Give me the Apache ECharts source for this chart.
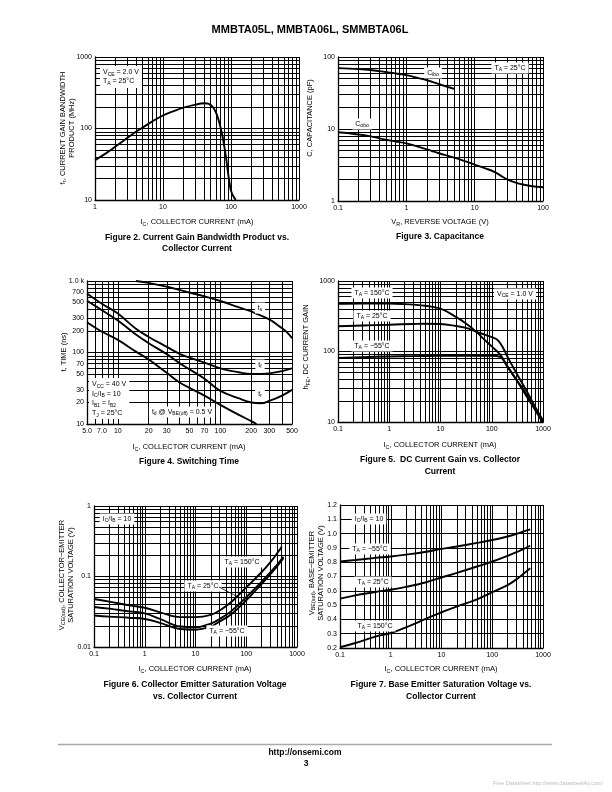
<!DOCTYPE html>
<html><head><meta charset="utf-8">
<script src="https://cdn.jsdelivr.net/npm/echarts@6/dist/echarts.min.js"></script>
<style>html,body{margin:0;padding:0;background:#fff}#c{width:612px;height:792px}</style>
</head><body><div id="c"></div>
<script>
// ---------------- DATA ----------------
// Figure 2: fT vs IC
const fig2XTicks = [1, 10, 100, 1000];
const fig2YTicks = [10, 100, 1000];
const fig2FT = [[1,36],[1.5,46],[2,56],[3,74],[4,90],[5,103],[7,126],[10,152],[15,178],[20,196],[30,216],[40,225],[45,224],[50,214],[55,195],[60,168],[65,136],[70,105],[75,78],[80,55],[85,38],[90,25],[95,17.5],[100,13.5],[110,11],[118,10]];
// Figure 3: capacitance
const fig3XTicks = [0.1, 1, 10, 100];
const fig3YTicks = [1, 10, 100];
const fig3Cibo = [[0.1,70],[0.2,68],[0.3,66],[0.5,62],[0.7,59],[1,56],[1.5,51],[2,47.5],[3,42],[4,38.5],[5,36]];
const fig3Cobo = [[0.1,9.0],[0.2,8.4],[0.3,7.9],[0.5,7.1],[0.7,6.7],[1,6.3],[2,5.2],[3,4.6],[5,4.0],[7,3.6],[10,3.2],[15,2.8],[20,2.5],[25,2.2],[30,2.0],[40,1.8],[50,1.7],[70,1.6],[100,1.55]];
// Figure 4: switching time
const fig4XTicks = [5, 7, 10, 20, 30, 50, 70, 100, 200, 300, 500];
const fig4XTickText = ['5.0','7.0','10','20','30','50','70','100','200','300','500'];
const fig4YTicks = [10, 20, 30, 50, 70, 100, 200, 300, 500, 700, 1000];
const fig4YTickText = ['10','20','30','50','70','100','200','300','500','700','1.0 k'];
const fig4Ts = [[15,1000],[20,940],[30,830],[40,750],[50,690],[70,610],[100,525],[150,430],[200,375],[300,290],[380,230],[450,190],[500,158]];
const fig4Tf = [[5,670],[7,480],[10,350],[15,215],[20,165],[30,120],[40,96],[50,85],[70,72],[100,60],[150,53],[200,50],[300,51],[400,55],[500,60]];
const fig4Tr = [[5,530],[7,390],[10,280],[15,178],[20,135],[30,95],[40,71],[50,58],[70,43],[100,29],[150,23],[200,20],[250,19.5],[300,21],[400,25],[500,30]];
const fig4Td = [[5,265],[7,195],[10,150],[15,103],[20,80],[30,52],[40,38],[50,32],[70,25],[100,18.5],[150,13.5],[200,11],[225,10]];
// Figure 5: DC current gain
const fig5XTicks = [0.1, 1, 10, 100, 1000];
const fig5YTicks = [10, 100, 1000];
const fig5H150 = [[0.1,475],[0.3,480],[1,478],[2,470],[3,462],[5,445],[10,405],[20,310],[30,255],[50,190],[70,150],[100,118],[150,88],[200,62],[300,40],[400,30],[500,23],[700,15],[900,11],[1000,9.5]];
const fig5H25 = [[0.1,228],[0.3,234],[1,240],[3,246],[5,248],[10,245],[20,230],[30,218],[50,192],[70,175],[100,160],[126,148],[150,128],[175,105],[200,86],[300,50],[500,26],[700,16.5],[1000,10.5]];
const fig5Hm55 = [[0.1,81],[0.3,83],[1,85],[3,86],[10,87],[30,87],[100,87],[145,84],[200,62],[300,40],[420,27],[500,22],[700,15],[1000,10]];
// Figure 6: VCE(sat)
const fig6XTicks = [0.1, 1, 10, 100, 1000];
const fig6YTicks = [0.01, 0.1, 1];
const fig6V150 = [[0.1,0.048],[0.2,0.044],[0.5,0.039],[1,0.036],[2,0.031],[5,0.0265],[10,0.0265],[20,0.0285],[30,0.033],[50,0.043],[100,0.07],[200,0.115],[300,0.16],[400,0.21],[500,0.265]];
const fig6V25 = [[0.1,0.037],[0.2,0.035],[0.5,0.032],[1,0.030],[2,0.025],[5,0.0195],[10,0.019],[20,0.0215],[30,0.025],[50,0.032],[100,0.051],[200,0.084],[300,0.115],[400,0.145],[540,0.19]];
const fig6Vm55 = [[0.1,0.028],[0.2,0.027],[0.5,0.026],[1,0.025],[2,0.022],[5,0.018],[10,0.0176],[20,0.0195],[30,0.023],[50,0.029],[100,0.046],[200,0.078],[300,0.108],[400,0.138],[540,0.182]];
// Figure 7: VBE(sat)
const fig7XTicks = [0.1, 1, 10, 100, 1000];
const fig7YTicks = [0.2, 0.3, 0.4, 0.5, 0.6, 0.7, 0.8, 0.9, 1.0, 1.1, 1.2];
const fig7YTickText = ['0.2','0.3','0.4','0.5','0.6','0.7','0.8','0.9','1.0','1.1','1.2'];
const fig7Bm55 = [[0.1,0.805],[0.2,0.815],[0.5,0.83],[1,0.84],[2,0.853],[5,0.873],[10,0.893],[20,0.91],[50,0.935],[100,0.955],[200,0.98],[300,0.998],[400,1.013],[560,1.03]];
const fig7B25 = [[0.1,0.545],[0.2,0.568],[0.5,0.592],[1,0.607],[2,0.627],[5,0.66],[10,0.693],[20,0.725],[50,0.77],[100,0.805],[200,0.845],[300,0.87],[400,0.89],[560,0.915]];
const fig7B150 = [[0.1,0.205],[0.2,0.235],[0.5,0.28],[1,0.305],[2,0.345],[5,0.405],[10,0.45],[20,0.49],[50,0.54],[100,0.59],[200,0.64],[300,0.68],[400,0.715],[560,0.758]];

// ---------------- HELPERS ----------------
const FONT = '"Liberation Sans", Arial, Helvetica, sans-serif';

function decadeGrid(min, max) {
  const out = [];
  const d0 = Math.floor(Math.log10(min) + 1e-9), d1 = Math.ceil(Math.log10(max) - 1e-9);
  for (let d = d0; d <= d1; d++) for (let m = 1; m <= 9; m++) {
    const v = Number((m * Math.pow(10, d)).toPrecision(6));
    if (v >= min * (1 - 1e-9) && v <= max * (1 + 1e-9)) out.push(v);
  }
  return out;
}
function fmt(v, ticks, texts) {
  const i = ticks.findIndex(t => Math.abs(t - v) <= Math.abs(t) * 1e-6);
  if (i >= 0 && texts) return texts[i];
  return String(Number(Number(v).toPrecision(6)));
}

const figs = [
  { rect: [95, 57, 204, 143],
    x: { type: 'log', min: 1, max: 1000, ticks: fig2XTicks, grid: decadeGrid(1, 1000) },
    y: { type: 'log', min: 10, max: 1000, ticks: fig2YTicks, grid: decadeGrid(10, 1000) },
    series: [fig2FT] },
  { rect: [338, 57, 205, 144],
    x: { type: 'log', min: 0.1, max: 100, ticks: fig3XTicks, grid: decadeGrid(0.1, 100) },
    y: { type: 'log', min: 1, max: 100, ticks: fig3YTicks, grid: decadeGrid(1, 100) },
    series: [fig3Cibo, fig3Cobo] },
  { rect: [87, 281, 205, 143],
    x: { type: 'log', min: 5, max: 500, ticks: fig4XTicks, texts: fig4XTickText, grid: decadeGrid(5, 500) },
    y: { type: 'log', min: 10, max: 1000, ticks: fig4YTicks, texts: fig4YTickText, grid: decadeGrid(10, 1000) },
    series: [fig4Ts, fig4Tf, fig4Tr, fig4Td] },
  { rect: [338, 281, 205, 141],
    x: { type: 'log', min: 0.1, max: 1000, ticks: fig5XTicks, grid: decadeGrid(0.1, 1000) },
    y: { type: 'log', min: 10, max: 1000, ticks: fig5YTicks, grid: decadeGrid(10, 1000) },
    series: [fig5H150, fig5H25, fig5Hm55] },
  { rect: [94, 506, 203, 141],
    x: { type: 'log', min: 0.1, max: 1000, ticks: fig6XTicks, grid: decadeGrid(0.1, 1000) },
    y: { type: 'log', min: 0.01, max: 1, ticks: fig6YTicks, grid: decadeGrid(0.01, 1) },
    series: [fig6V150, fig6V25, fig6Vm55] },
  { rect: [340, 505, 203, 143],
    x: { type: 'log', min: 0.1, max: 1000, ticks: fig7XTicks, grid: decadeGrid(0.1, 1000) },
    y: { type: 'value', min: 0.2, max: 1.2, ticks: fig7YTicks, texts: fig7YTickText, grid: fig7YTicks },
    series: [fig7Bm55, fig7B25, fig7B150] }
];

function axisCfg(i, a, dim) {
  const c = {
    gridIndex: i, type: a.type, min: a.min, max: a.max,
    axisLine: { show: true, onZero: false, lineStyle: { color: '#000', width: 1.3 } },
    axisTick: { show: false, customValues: a.grid },
    splitLine: { show: true, lineStyle: { color: '#000', width: 1 } },
    minorTick: { show: false }, minorSplitLine: { show: false },
    axisLabel: {
      customValues: a.ticks,
      fontSize: 7, fontFamily: FONT, color: '#000', margin: dim === 'x' ? 4 : 3,
      formatter: v => fmt(v, a.ticks, a.texts)
    }
  };
  if (a.type === 'log') c.logBase = 10;
  return c;
}

const series = [];
figs.forEach((f, i) => {
  f.series.forEach(d => {
    series.push({
      type: 'line', xAxisIndex: i, yAxisIndex: i, data: d,
      symbol: 'none', showSymbol: false, smooth: 0.4,
      lineStyle: { color: '#000', width: 1.9 }, z: 3, silent: true
    });
  });
});

function richSet(size, bold, lh) {
  return {
    n: { fontSize: size, fontFamily: FONT, fontWeight: bold ? 'bold' : 'normal', fill: '#000', lineHeight: lh || Math.round(size * 1.3) },
    s: { fontSize: Math.round(size * 0.72 * 10) / 10, fontFamily: FONT, fontWeight: bold ? 'bold' : 'normal', fill: '#000', verticalAlign: 'bottom', lineHeight: Math.round(size * 0.8 * 10) / 10 }
  };
}
function toRich(str) {
  return str.split('\n').map(line => {
    const parts = line.split(/_\{([^}]*)\}/);
    let o = '';
    parts.forEach((p, j) => {
      if (!p) return;
      o += (j % 2 === 0 ? '{n|' : '{s|') + p + '}';
    });
    return o;
  }).join('\n');
}
function txt(x, y, str, opt) {
  opt = opt || {};
  const size = opt.size || 7;
  const st = {
    text: toRich(str), rich: richSet(size, opt.bold, opt.lh),
    fontSize: size, fontFamily: FONT, fill: '#000',
    align: opt.align || 'center', verticalAlign: 'middle'
  };
  if (opt.bg) { st.backgroundColor = opt.bg; st.padding = opt.pad || [1, 3]; }
  return { type: 'text', x: x, y: y, rotation: opt.rot || 0, z: 100, silent: true, style: st };
}

const W = { bg: '#fff' };
const ROT = Math.PI / 2;
const IC = 'I_{C}, COLLECTOR CURRENT (mA)';
const graphics = [
  txt(310, 30, 'MMBTA05L, MMBTA06L, SMMBTA06L', { size: 11, bold: true }),
  // Fig 2
  txt(100, 77, 'V_{CE} = 2.0 V\nT_{A} = 25°C', { align: 'left', bg: '#fff', pad: [2, 3], lh: 9 }),
  txt(197, 222, IC, { size: 7.5 }),
  txt(67.5, 128, 'f_{τ}, CURRENT GAIN BANDWIDTH\nPRODUCT (MHz)', { size: 7.5, rot: ROT, lh: 9 }),
  txt(197, 243.5, 'Figure 2. Current Gain Bandwidth Product vs.\nCollector Current', { size: 8.5, bold: true, lh: 11 }),
  // Fig 3
  txt(433, 73, 'C_{ibo}', W), txt(362, 124, 'C_{obo}', W), txt(510, 68, 'T_{A} = 25°C', W),
  txt(440, 222, 'V_{R}, REVERSE VOLTAGE (V)', { size: 7.5 }),
  txt(310, 118, 'C, CAPACITANCE (pF)', { size: 7.5, rot: ROT }),
  txt(440, 237, 'Figure 3. Capacitance', { size: 8.5, bold: true }),
  // Fig 4
  txt(260, 308, 't_{s}', W), txt(260, 365, 't_{f}', W), txt(260, 394, 't_{r}', W),
  txt(89, 398.5, 'V_{CC} = 40 V\nI_{C}/I_{B} = 10\nI_{B1} = I_{B2}\nT_{J} = 25°C', { align: 'left', bg: '#fff', pad: [1, 3], lh: 9.7 }),
  txt(182, 412, 't_{d} @ V_{BE(off)} = 0.5 V', W),
  txt(189, 447, IC, { size: 7.5 }),
  txt(64, 352, 't, TIME (ns)', { size: 7.5, rot: ROT }),
  txt(189, 462, 'Figure 4. Switching Time', { size: 8.5, bold: true }),
  // Fig 5
  txt(372, 293, 'T_{A} = 150°C', W), txt(372, 316, 'T_{A} = 25°C', W), txt(372, 346, 'T_{A} = −55°C', W),
  txt(515, 294, 'V_{CE} = 1.0 V', W),
  txt(440, 445, IC, { size: 7.5 }),
  txt(306, 347, 'h_{FE}, DC CURRENT GAIN', { size: 7.5, rot: ROT }),
  txt(440, 466, 'Figure 5.  DC Current Gain vs. Collector\nCurrent', { size: 8.5, bold: true, lh: 12 }),
  // Fig 6
  txt(117, 519, 'I_{C}/I_{B} = 10', W),
  txt(242, 562, 'T_{A} = 150°C', W), txt(203, 586, 'T_{A} = 25°C', W), txt(227, 631, 'T_{A} = −55°C', W),
  { type: 'line', z: 100, silent: true, shape: { x1: 219, y1: 587, x2: 240, y2: 598 }, style: { stroke: '#000', lineWidth: 0.8 } },
  txt(195, 669, IC, { size: 7.5 }),
  txt(66.5, 575, 'V_{CE(sat)}, COLLECTOR−EMITTER\nSATURATION VOLTAGE (V)', { size: 7.5, rot: ROT, lh: 9 }),
  txt(195, 691, 'Figure 6. Collector Emitter Saturation Voltage\nvs. Collector Current', { size: 8.5, bold: true, lh: 12 }),
  // Fig 7
  txt(369, 519, 'I_{C}/I_{B} = 10', W),
  txt(370, 549, 'T_{A} = −55°C', W), txt(373, 582, 'T_{A} = 25°C', W), txt(375, 626, 'T_{A} = 150°C', W),
  txt(441, 669, IC, { size: 7.5 }),
  txt(316, 573, 'V_{BE(sat)}, BASE−EMITTER\nSATURATION VOLTAGE (V)', { size: 7.5, rot: ROT, lh: 9 }),
  txt(441, 691, 'Figure 7. Base Emitter Saturation Voltage vs.\nCollector Current', { size: 8.5, bold: true, lh: 12 }),
  // footer
  { type: 'line', z: 100, silent: true, shape: { x1: 58, y1: 744.5, x2: 552, y2: 744.5 }, style: { stroke: '#aaa', lineWidth: 1.5 } },
  txt(305, 753, 'http://onsemi.com', { size: 8.5, bold: true }),
  txt(306, 764, '3', { size: 8.5, bold: true }),
  { type: 'text', x: 603, y: 783, z: 100, silent: true, style: { text: 'Free Datasheet http://www.datasheet4u.com/', fontSize: 5.5, fontFamily: FONT, fill: '#bbb', align: 'right', verticalAlign: 'middle' } }
];

const chart = echarts.init(document.getElementById('c'), null, { renderer: 'canvas', width: 612, height: 792 });
chart.setOption({
  animation: false,
  backgroundColor: '#fff',
  grid: figs.map(f => ({ left: f.rect[0], top: f.rect[1], width: f.rect[2], height: f.rect[3], containLabel: false })),
  xAxis: figs.map((f, i) => axisCfg(i, f.x, 'x')),
  yAxis: figs.map((f, i) => axisCfg(i, f.y, 'y')),
  series: series,
  graphic: { elements: graphics }
});
</script>
</body></html>
